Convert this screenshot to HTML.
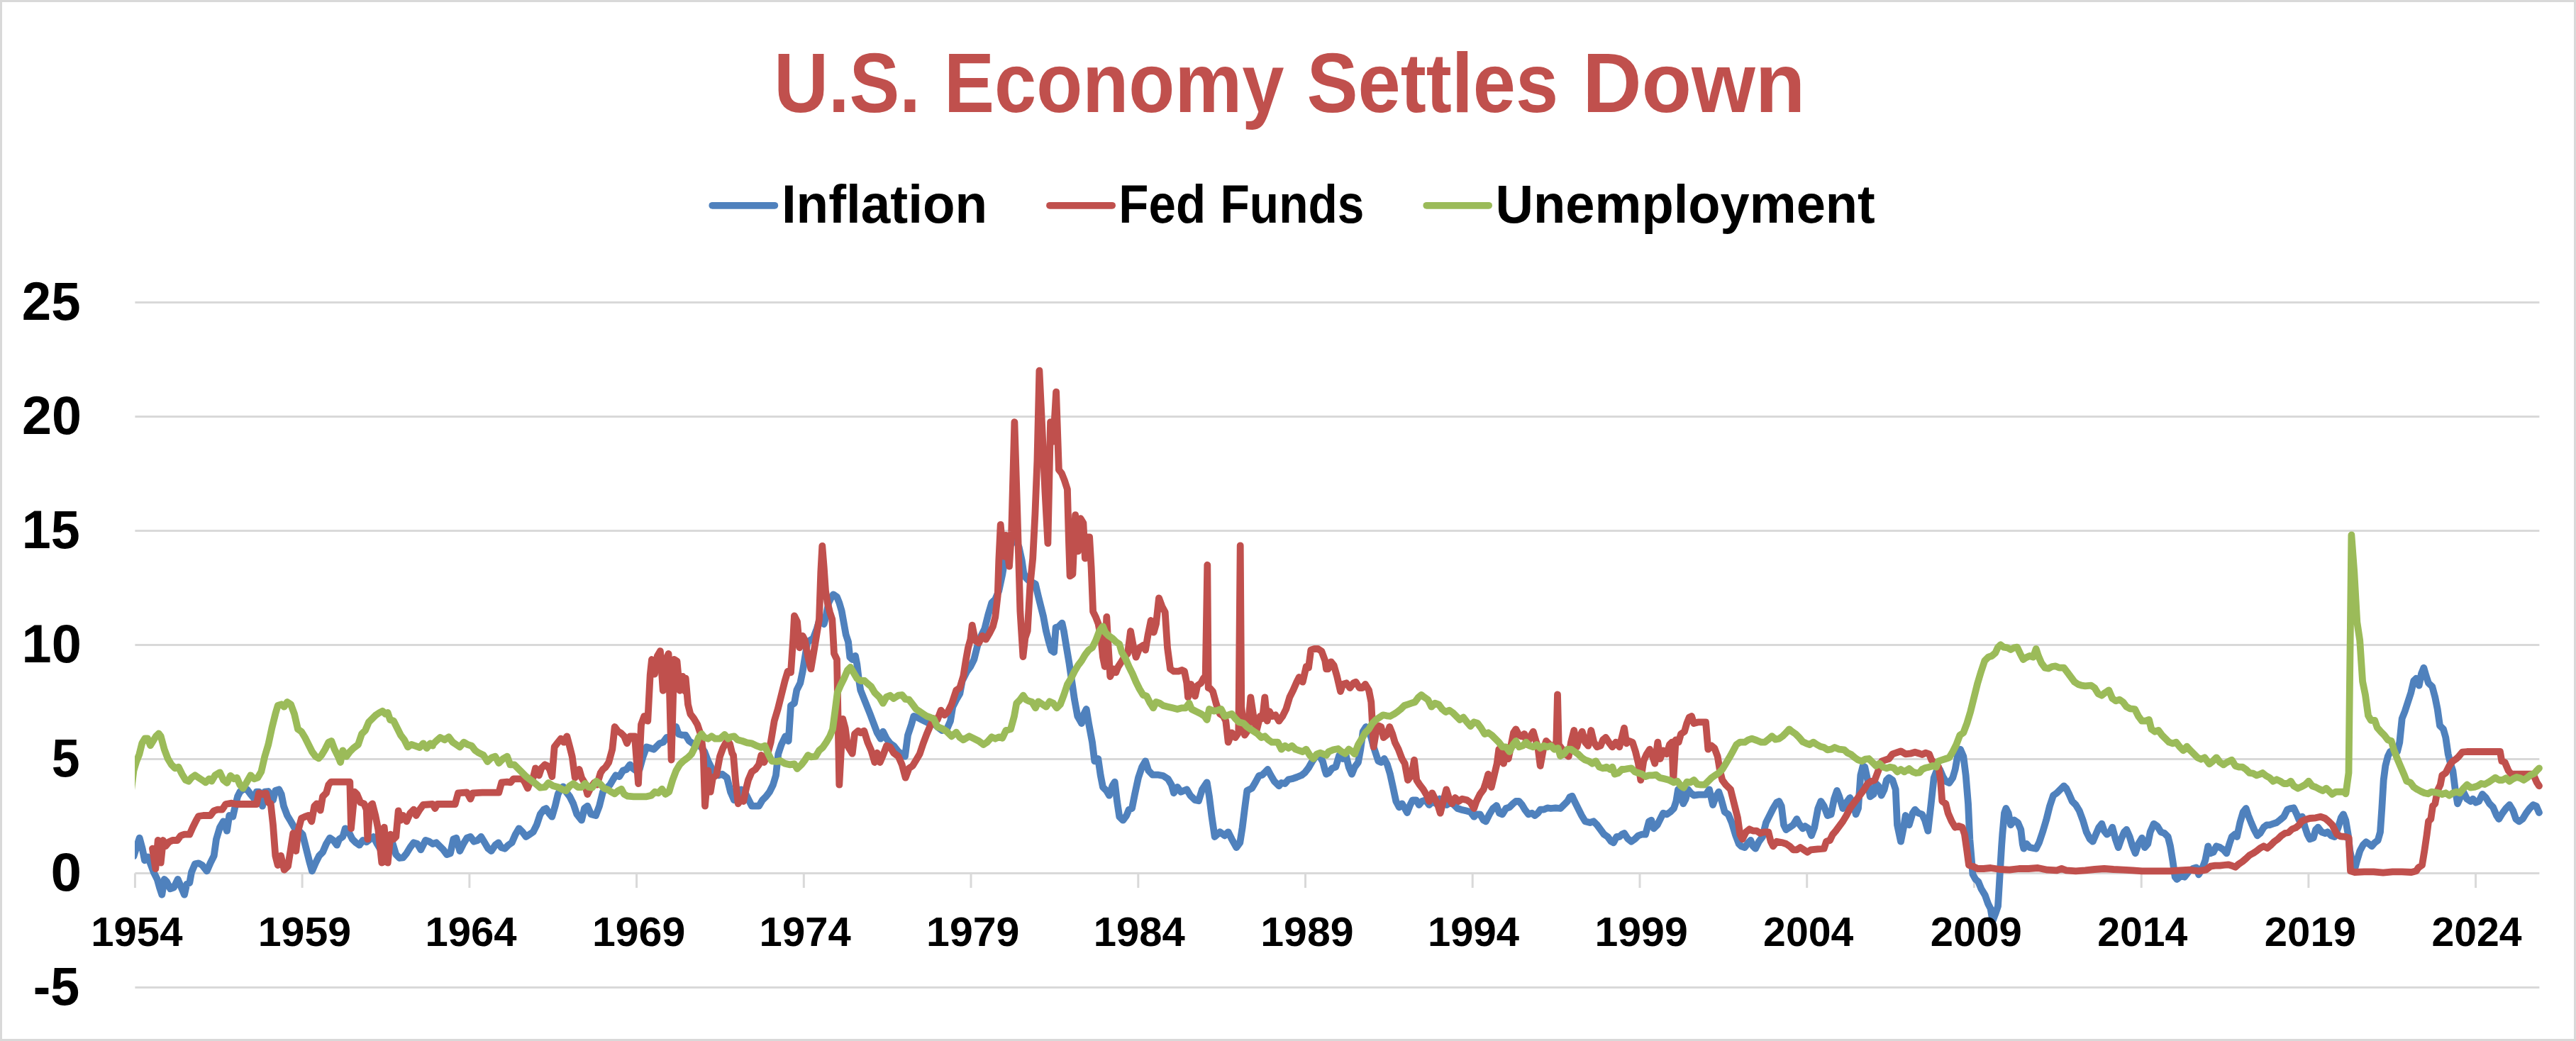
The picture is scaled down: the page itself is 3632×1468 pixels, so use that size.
<!DOCTYPE html>
<html><head><meta charset="utf-8"><title>U.S. Economy Settles Down</title>
<style>
html,body{margin:0;padding:0;background:#fff;}
body{width:3632px;height:1468px;overflow:hidden;font-family:"Liberation Sans",sans-serif;}
svg{display:block}
text{font-family:"Liberation Sans",sans-serif;font-weight:bold;}
</style></head><body>
<svg width="3632" height="1468" viewBox="0 0 3632 1468">
<rect x="0" y="0" width="3632" height="1468" fill="#ffffff"/>
<rect x="1.5" y="1.5" width="3629.00" height="1465.00" fill="none" stroke="#d9d9d9" stroke-width="3"/>
<g stroke="#d9d9d9" stroke-width="3" fill="none">
<line x1="190.4" y1="426.5" x2="3580.4" y2="426.5"/>
<line x1="190.4" y1="587.5" x2="3580.4" y2="587.5"/>
<line x1="190.4" y1="748.5" x2="3580.4" y2="748.5"/>
<line x1="190.4" y1="909.5" x2="3580.4" y2="909.5"/>
<line x1="190.4" y1="1070.5" x2="3580.4" y2="1070.5"/>
<line x1="190.4" y1="1231.5" x2="3580.4" y2="1231.5"/>
<line x1="190.4" y1="1392.5" x2="3580.4" y2="1392.5"/>
<line x1="190.4" y1="1231.5" x2="190.4" y2="1252"/>
<line x1="426.1" y1="1231.5" x2="426.1" y2="1252"/>
<line x1="661.9" y1="1231.5" x2="661.9" y2="1252"/>
<line x1="897.6" y1="1231.5" x2="897.6" y2="1252"/>
<line x1="1133.3" y1="1231.5" x2="1133.3" y2="1252"/>
<line x1="1369.0" y1="1231.5" x2="1369.0" y2="1252"/>
<line x1="1604.8" y1="1231.5" x2="1604.8" y2="1252"/>
<line x1="1840.5" y1="1231.5" x2="1840.5" y2="1252"/>
<line x1="2076.2" y1="1231.5" x2="2076.2" y2="1252"/>
<line x1="2312.0" y1="1231.5" x2="2312.0" y2="1252"/>
<line x1="2547.7" y1="1231.5" x2="2547.7" y2="1252"/>
<line x1="2783.4" y1="1231.5" x2="2783.4" y2="1252"/>
<line x1="3019.2" y1="1231.5" x2="3019.2" y2="1252"/>
<line x1="3254.9" y1="1231.5" x2="3254.9" y2="1252"/>
<line x1="3490.6" y1="1231.5" x2="3490.6" y2="1252"/>
</g>
<defs><clipPath id="plotclip"><rect x="190" y="300" width="3442" height="1168"/></clipPath></defs>
<g clip-path="url(#plotclip)" fill="none" stroke-width="9.8" stroke-linejoin="round" stroke-linecap="round">
<polyline stroke="#4f81bd" points="184.5,1207.4 188.5,1207.4 192.4,1195.1 196.7,1181.7 200.7,1196.7 204.0,1213.3 208.3,1208.3 211.7,1216.7 216.7,1230.0 221.7,1240.0 225.0,1251.7 228.3,1261.7 231.7,1240.0 235.0,1243.3 240.0,1253.3 245.0,1251.7 250.7,1240.0 255.0,1250.0 260.0,1261.7 263.3,1246.7 267.3,1245.0 270.0,1230.0 275.0,1218.3 280.0,1217.3 285.0,1220.0 291.7,1228.3 296.7,1216.7 301.7,1206.7 305.0,1183.3 310.0,1166.7 315.0,1158.3 320.0,1171.7 323.3,1150.0 328.3,1151.7 331.7,1136.7 335.0,1123.3 338.3,1116.7 343.3,1112.7 348.3,1113.3 353.3,1120.0 358.3,1126.0 361.7,1116.7 365.0,1116.7 370.0,1136.7 373.3,1116.7 378.3,1116.0 385.0,1128.3 388.3,1115.0 393.3,1113.3 396.7,1120.0 400.0,1136.7 405.0,1150.0 410.0,1158.3 416.7,1170.0 421.7,1171.7 426.7,1176.7 431.7,1196.7 436.7,1216.7 440.0,1228.3 445.0,1216.7 450.0,1206.7 455.0,1201.7 460.0,1190.0 465.0,1181.7 470.0,1185.0 475.0,1191.7 478.3,1183.3 483.3,1180.0 486.7,1168.3 491.7,1173.3 496.7,1183.3 501.7,1188.3 506.7,1191.7 511.7,1185.0 516.7,1187.3 521.7,1183.3 526.7,1180.0 531.7,1190.0 536.7,1198.3 543.3,1196.7 548.3,1195.0 553.3,1188.3 558.3,1205.0 563.3,1210.0 568.3,1209.3 573.3,1203.3 578.3,1195.0 583.3,1188.3 588.3,1190.0 593.3,1198.3 600.0,1185.0 605.0,1186.7 610.0,1190.0 610.0,1190.0 615.0,1188.3 620.0,1193.3 625.0,1198.3 630.0,1205.0 635.0,1203.3 639.3,1183.3 643.3,1181.7 648.3,1200.0 653.3,1190.0 658.3,1181.7 663.3,1180.0 668.3,1186.7 673.3,1185.0 678.3,1180.0 683.3,1188.3 688.3,1196.7 692.7,1200.0 698.3,1191.7 702.7,1188.3 706.7,1195.0 711.7,1196.7 716.7,1191.7 721.7,1188.3 726.7,1176.7 731.7,1168.3 736.7,1173.3 741.7,1180.0 746.7,1176.7 751.7,1173.3 756.7,1163.3 761.7,1148.3 766.7,1141.7 770.0,1140.0 774.0,1146.7 778.3,1151.7 782.7,1136.7 786.7,1120.0 790.0,1113.3 794.0,1109.3 798.3,1116.7 803.3,1123.3 808.3,1133.3 813.3,1148.3 820.0,1156.7 824.0,1140.0 828.3,1136.7 833.3,1148.3 840.0,1150.0 845.0,1136.7 850.0,1116.7 855.0,1111.7 860.0,1106.7 865.0,1098.3 868.3,1093.3 873.3,1095.0 878.3,1086.7 883.3,1085.0 888.3,1078.3 891.7,1083.3 896.7,1086.7 901.7,1085.0 906.7,1066.7 911.7,1053.3 916.7,1055.0 921.7,1056.7 926.7,1051.7 930.0,1048.3 935.0,1046.7 940.0,1040.0 945.0,1040.0 949.3,1030.0 953.3,1025.0 956.7,1035.0 961.7,1036.7 966.7,1036.7 971.7,1045.0 976.7,1048.3 983.3,1050.0 988.3,1053.3 993.3,1060.0 998.3,1073.3 1003.3,1083.3 1008.3,1091.7 1013.3,1093.3 1018.3,1091.7 1025.0,1096.7 1030.0,1116.7 1035.0,1128.3 1040.0,1123.3 1045.0,1113.3 1050.0,1116.7 1055.0,1126.7 1060.0,1136.7 1070.0,1136.7 1075.0,1128.3 1080.0,1123.3 1085.0,1116.7 1090.0,1106.7 1094.0,1093.3 1097.3,1063.3 1101.7,1050.0 1107.3,1038.3 1111.7,1045.0 1115.0,995.0 1120.0,991.7 1123.3,973.3 1128.3,963.3 1131.7,946.7 1135.0,926.7 1138.3,906.7 1141.7,903.3 1146.7,900.0 1151.7,886.7 1156.7,870.0 1161.7,880.0 1164.0,871.7 1168.3,850.0 1171.7,843.3 1175.0,838.3 1180.0,841.7 1183.3,850.0 1186.7,861.7 1190.0,880.0 1192.7,895.0 1196.0,905.0 1198.3,926.7 1201.7,930.0 1206.0,925.0 1208.3,936.7 1210.7,956.7 1213.3,973.3 1220.0,990.0 1226.7,1006.7 1231.7,1020.0 1236.7,1033.3 1241.7,1041.7 1245.0,1031.7 1250.0,1041.7 1255.0,1048.3 1260.0,1051.7 1266.7,1060.0 1271.7,1063.3 1276.0,1066.7 1280.0,1036.7 1285.0,1021.7 1288.3,1010.0 1293.3,1011.7 1300.0,1015.0 1306.7,1018.3 1311.7,1021.7 1316.7,1020.0 1321.7,1025.0 1328.3,1030.0 1335.0,1028.3 1340.0,1016.7 1343.3,996.7 1348.3,986.7 1353.3,978.3 1356.7,960.0 1363.3,946.7 1368.3,940.0 1373.3,930.0 1378.3,910.0 1383.3,896.7 1388.3,886.7 1393.3,866.7 1398.3,850.0 1403.3,845.0 1408.3,833.3 1413.3,810.0 1416.7,790.0 1421.7,776.7 1426.7,763.3 1431.7,760.0 1436.7,771.7 1440.7,790.0 1443.3,808.3 1446.7,815.0 1450.0,818.3 1459.9,823.6 1463.7,839.9 1467.4,854.8 1471.2,869.8 1474.9,889.8 1478.7,904.8 1482.4,917.3 1486.1,919.8 1488.6,884.8 1492.4,883.6 1497.4,878.6 1499.9,889.8 1503.6,912.3 1507.4,934.8 1511.1,960.0 1515.0,986.7 1519.3,1010.0 1525.0,1020.0 1528.3,1006.7 1531.7,1000.0 1535.0,1020.0 1540.0,1046.7 1543.3,1073.3 1548.3,1070.0 1551.7,1093.3 1555.0,1110.0 1560.0,1115.0 1564.0,1121.7 1568.3,1108.3 1571.7,1102.7 1575.0,1130.0 1578.3,1151.7 1583.3,1156.7 1588.3,1150.0 1591.7,1141.7 1596.0,1140.0 1600.0,1120.0 1605.0,1096.7 1610.0,1081.7 1615.0,1073.3 1619.3,1086.7 1625.0,1092.7 1633.3,1092.7 1640.0,1094.0 1646.7,1098.3 1651.7,1106.7 1655.0,1118.3 1660.0,1110.0 1665.0,1116.7 1673.3,1113.3 1678.3,1121.7 1685.0,1128.3 1690.0,1129.3 1695.0,1113.3 1701.7,1103.3 1705.0,1123.3 1708.3,1150.0 1712.7,1180.0 1720.0,1173.3 1726.7,1178.3 1731.7,1173.3 1736.7,1183.3 1743.3,1195.0 1748.3,1188.3 1751.7,1166.7 1755.0,1140.0 1758.3,1115.0 1765.0,1111.7 1770.0,1103.3 1775.0,1094.0 1780.0,1092.7 1787.3,1085.0 1791.7,1093.3 1796.7,1101.7 1803.3,1108.3 1806.7,1104.0 1811.7,1105.0 1816.7,1099.3 1821.7,1098.3 1828.3,1096.0 1835.0,1093.3 1840.0,1089.3 1845.0,1082.7 1850.0,1074.0 1855.0,1066.7 1860.0,1065.0 1865.0,1074.0 1868.3,1086.7 1870.0,1091.7 1873.3,1090.0 1878.3,1083.3 1883.3,1081.7 1888.3,1065.0 1893.3,1070.0 1897.3,1063.3 1901.7,1081.7 1906.0,1091.7 1910.0,1081.7 1915.0,1075.0 1918.3,1056.7 1921.7,1031.7 1926.0,1025.0 1930.0,1031.7 1933.3,1040.0 1936.7,1053.3 1940.0,1063.3 1943.3,1073.3 1947.3,1075.0 1951.7,1070.0 1956.0,1078.3 1960.0,1091.7 1964.0,1110.0 1968.3,1130.0 1972.7,1138.3 1976.7,1133.3 1980.7,1140.0 1984.0,1146.0 1988.3,1135.0 1991.7,1128.3 1996.7,1128.3 2000.7,1135.0 2005.0,1130.0 2010.0,1128.3 2015.0,1135.0 2020.0,1130.0 2025.0,1133.3 2030.0,1126.7 2035.0,1130.0 2040.0,1135.0 2045.0,1131.7 2050.0,1135.0 2055.0,1140.0 2060.0,1141.7 2066.7,1143.3 2073.3,1145.0 2078.3,1151.7 2081.7,1148.3 2086.7,1148.3 2091.7,1156.7 2095.0,1158.3 2100.0,1148.3 2105.0,1140.0 2110.0,1136.0 2114.0,1146.7 2118.3,1148.3 2123.3,1140.0 2128.3,1138.3 2133.3,1133.3 2137.3,1130.0 2141.7,1130.0 2146.0,1135.0 2150.0,1141.7 2155.0,1148.3 2160.0,1146.7 2164.0,1150.0 2168.3,1146.7 2171.7,1141.7 2176.7,1141.7 2181.7,1139.3 2186.7,1140.0 2193.3,1139.3 2200.0,1140.0 2205.0,1135.0 2210.0,1130.0 2213.3,1124.0 2216.7,1122.7 2220.0,1130.0 2225.0,1140.0 2230.0,1150.0 2235.0,1158.3 2241.7,1160.0 2246.7,1158.3 2251.7,1163.3 2256.7,1170.0 2261.7,1176.7 2266.7,1180.0 2271.7,1186.7 2275.0,1188.3 2279.3,1180.0 2283.3,1180.0 2286.7,1176.7 2290.0,1175.0 2295.0,1182.7 2300.0,1186.7 2305.0,1183.3 2310.0,1178.3 2315.0,1176.7 2320.0,1176.7 2325.0,1158.3 2328.3,1156.7 2331.7,1168.3 2336.7,1163.3 2341.7,1153.3 2345.0,1146.7 2350.0,1148.3 2355.0,1145.0 2360.0,1140.0 2363.3,1130.0 2366.0,1113.3 2369.3,1116.7 2373.3,1133.3 2376.7,1126.7 2380.0,1113.3 2384.0,1118.3 2388.3,1121.7 2395.0,1120.7 2405.0,1120.7 2410.0,1113.3 2415.0,1135.0 2419.3,1123.3 2423.3,1116.7 2426.7,1126.7 2431.7,1145.0 2436.7,1148.3 2441.7,1160.0 2446.7,1176.7 2451.7,1190.0 2455.0,1193.3 2460.0,1195.0 2465.0,1188.3 2468.3,1185.0 2471.7,1193.3 2475.0,1196.7 2480.0,1186.7 2485.0,1180.0 2490.0,1160.0 2495.0,1150.0 2500.0,1140.0 2505.0,1131.7 2508.3,1130.0 2511.7,1136.7 2515.0,1163.3 2518.3,1170.0 2523.3,1166.7 2528.3,1163.3 2533.3,1155.0 2536.7,1161.7 2541.7,1168.3 2545.0,1165.0 2550.0,1168.3 2554.0,1178.3 2558.3,1166.7 2563.3,1140.0 2567.3,1130.0 2571.7,1136.7 2576.7,1150.0 2581.7,1148.3 2586.0,1126.7 2590.0,1115.0 2593.3,1123.3 2598.3,1140.0 2603.3,1131.7 2608.3,1125.0 2613.3,1133.3 2616.7,1148.3 2620.0,1140.0 2623.3,1093.3 2626.7,1080.0 2629.3,1081.7 2633.3,1100.0 2636.7,1123.3 2641.7,1120.0 2645.0,1105.0 2648.3,1108.3 2652.7,1121.7 2656.7,1113.3 2660.0,1100.0 2663.3,1096.7 2668.3,1100.0 2672.7,1113.3 2675.0,1163.3 2680.0,1186.7 2684.0,1166.7 2686.7,1150.0 2691.7,1163.3 2696.7,1146.7 2700.0,1141.7 2705.0,1146.7 2710.0,1148.3 2714.0,1156.7 2718.3,1171.7 2722.7,1133.3 2726.7,1096.7 2730.7,1086.7 2735.0,1085.0 2739.3,1095.0 2743.3,1101.7 2748.3,1104.0 2753.3,1096.7 2756.7,1085.0 2760.0,1066.7 2764.0,1056.7 2768.3,1066.7 2771.7,1093.3 2775.0,1133.3 2777.3,1183.3 2778.9,1201.9 2781.5,1233.0 2785.3,1239.9 2789.3,1243.4 2793.6,1253.8 2798.8,1262.4 2803.1,1274.5 2806.6,1281.4 2809.5,1298.7 2813.5,1288.3 2817.0,1278.0 2819.5,1236.5 2822.1,1193.2 2823.3,1176.7 2826.0,1146.7 2828.3,1140.0 2831.7,1146.7 2835.0,1163.3 2840.0,1156.7 2845.0,1160.0 2849.3,1170.0 2851.7,1190.0 2853.3,1196.7 2857.3,1190.0 2861.7,1195.0 2866.7,1196.0 2870.7,1196.7 2875.0,1188.3 2880.0,1173.3 2885.0,1156.7 2890.0,1136.7 2895.0,1121.7 2900.0,1118.3 2905.0,1113.3 2910.0,1108.3 2913.3,1111.7 2917.3,1120.0 2921.7,1130.0 2926.7,1135.0 2931.7,1143.3 2936.7,1156.7 2941.7,1173.3 2946.7,1183.3 2950.7,1186.7 2955.0,1176.7 2959.3,1166.7 2963.3,1161.7 2966.7,1171.7 2970.7,1176.7 2975.0,1173.3 2978.3,1166.7 2982.7,1183.3 2986.7,1195.0 2990.7,1183.3 2995.0,1173.3 2998.3,1170.0 3002.7,1180.0 3006.7,1193.3 3010.7,1203.3 3015.0,1190.0 3020.0,1181.7 3024.0,1195.0 3028.3,1190.0 3031.7,1173.3 3036.7,1161.7 3041.7,1165.0 3046.7,1173.3 3051.7,1175.0 3056.7,1180.0 3060.0,1193.3 3063.3,1213.3 3066.7,1236.7 3069.3,1240.0 3075.0,1235.0 3080.0,1236.7 3086.7,1228.3 3091.7,1225.0 3096.7,1223.3 3100.0,1233.3 3105.0,1225.0 3109.3,1213.3 3113.3,1193.3 3116.7,1203.3 3120.7,1201.7 3125.0,1193.3 3130.0,1195.0 3135.0,1198.3 3139.3,1203.3 3143.3,1190.0 3146.7,1180.0 3150.7,1176.7 3154.0,1180.0 3158.3,1160.0 3162.7,1145.0 3166.7,1140.0 3170.0,1150.0 3174.0,1160.0 3178.3,1170.0 3182.7,1178.3 3186.7,1175.0 3191.7,1166.7 3196.0,1163.3 3200.0,1163.3 3205.0,1161.7 3210.0,1160.0 3215.0,1156.0 3220.0,1151.7 3225.0,1141.7 3230.0,1140.0 3234.0,1139.3 3238.3,1148.3 3241.7,1156.7 3246.0,1151.7 3250.0,1166.7 3253.3,1176.7 3256.7,1183.3 3261.7,1181.7 3265.0,1170.0 3268.3,1166.7 3273.3,1173.3 3278.3,1175.0 3281.7,1173.3 3286.7,1178.3 3291.7,1180.0 3296.7,1166.7 3300.7,1153.3 3304.0,1148.3 3307.3,1156.7 3310.7,1176.7 3313.3,1200.0 3316.7,1216.7 3319.3,1228.3 3323.3,1213.3 3327.3,1200.0 3331.7,1191.7 3336.0,1187.3 3340.0,1190.0 3344.0,1193.3 3348.3,1188.3 3352.7,1185.0 3356.0,1173.3 3358.3,1140.0 3360.7,1100.0 3363.3,1080.0 3366.7,1066.7 3370.0,1060.0 3375.0,1058.3 3380.0,1060.0 3383.3,1046.7 3386.7,1013.3 3390.7,1003.3 3395.0,990.0 3399.3,976.7 3403.3,960.0 3406.7,956.7 3410.7,966.7 3414.0,950.0 3417.3,941.7 3420.7,953.3 3424.0,963.3 3429.3,968.3 3433.3,983.3 3436.7,1000.0 3440.0,1023.3 3445.0,1028.3 3448.3,1040.0 3451.7,1063.3 3455.0,1076.7 3458.3,1086.7 3461.7,1113.3 3465.0,1133.3 3469.3,1123.3 3473.3,1116.7 3478.3,1126.7 3483.3,1130.0 3486.7,1126.7 3490.7,1131.7 3495.0,1130.0 3500.0,1120.0 3505.0,1125.0 3510.0,1133.3 3515.0,1138.3 3520.0,1150.0 3523.3,1155.0 3528.3,1146.7 3533.3,1140.0 3538.3,1135.0 3543.3,1143.3 3547.3,1155.0 3551.7,1158.3 3556.7,1155.0 3561.7,1146.7 3566.7,1140.0 3571.7,1135.0 3576.0,1136.7 3580.0,1146.0"/>
<polyline stroke="#c0504d" points="215.0,1196.7 219.3,1225.0 222.7,1185.0 226.7,1216.7 230.0,1185.0 233.3,1193.3 238.3,1187.3 243.3,1185.0 250.0,1185.0 255.0,1178.3 260.0,1176.7 267.3,1176.7 271.7,1166.7 276.7,1156.7 280.0,1151.0 286.7,1150.0 296.7,1150.0 301.7,1143.3 306.7,1141.7 313.3,1141.7 318.3,1134.0 326.7,1132.7 333.3,1134.0 353.3,1134.0 361.7,1134.0 365.0,1118.3 370.0,1120.0 375.0,1118.3 378.3,1131.7 381.7,1133.3 385.0,1163.3 388.3,1206.7 391.7,1220.0 396.0,1206.7 400.7,1226.7 406.0,1221.7 410.0,1196.7 413.3,1175.0 417.3,1200.0 420.7,1170.0 425.0,1154.0 430.0,1151.7 435.0,1150.0 439.3,1158.3 443.3,1136.7 446.7,1133.3 451.7,1142.7 455.0,1123.3 460.0,1118.3 463.3,1106.7 466.7,1102.7 493.3,1102.7 495.0,1168.3 500.0,1116.7 503.3,1120.0 508.3,1131.7 513.3,1133.3 516.7,1141.7 518.3,1183.3 521.7,1136.7 525.0,1133.3 529.3,1150.0 533.3,1170.0 538.3,1216.7 541.7,1166.7 546.7,1216.7 550.7,1176.7 555.0,1183.3 558.3,1180.0 561.7,1143.3 565.0,1156.7 568.3,1150.0 573.3,1158.3 578.3,1146.7 583.3,1141.7 586.7,1150.0 591.7,1141.7 596.7,1135.0 610.0,1134.0 610.0,1134.0 613.3,1140.0 616.7,1134.0 641.7,1134.0 646.0,1118.3 658.3,1117.3 663.3,1126.7 666.7,1118.3 680.0,1117.7 703.3,1117.7 707.3,1103.3 715.0,1102.7 720.0,1103.3 724.0,1098.3 736.7,1098.3 740.0,1103.3 744.0,1111.7 748.3,1100.0 751.7,1096.7 755.0,1083.3 760.0,1093.3 763.3,1083.3 768.3,1078.3 771.7,1080.0 775.0,1085.0 778.3,1095.0 781.7,1053.3 786.7,1046.7 790.7,1041.7 795.0,1046.7 799.3,1038.3 803.3,1053.3 806.7,1066.7 810.7,1096.7 816.7,1085.0 820.0,1096.7 824.0,1103.3 828.3,1120.0 833.3,1110.0 838.3,1103.3 841.7,1106.7 846.7,1090.0 850.0,1085.0 854.0,1081.7 858.3,1075.0 863.3,1056.7 866.7,1025.0 871.7,1031.7 875.0,1033.3 880.0,1038.3 884.0,1048.3 888.3,1038.3 895.0,1038.3 900.0,1105.0 904.0,1021.7 908.3,1010.0 913.3,1016.7 916.7,951.7 919.0,930.0 923.0,950.6 926.9,925.0 930.9,918.1 934.8,973.8 938.8,930.0 942.6,921.9 946.6,1071.6 950.5,930.0 954.5,932.5 958.4,973.8 962.4,953.8 966.2,975.0 966.7,956.7 970.0,993.3 973.3,1006.7 978.3,1013.3 983.3,1021.7 988.3,1036.7 991.7,1063.3 994.0,1136.7 998.3,1086.7 1001.7,1116.7 1005.0,1096.7 1010.0,1093.3 1015.0,1066.7 1019.3,1055.0 1023.0,1048.0 1026.0,1044.6 1029.0,1049.0 1032.2,1062.0 1034.0,1065.0 1037.3,1103.3 1040.7,1133.3 1044.0,1128.3 1048.3,1130.0 1051.7,1113.3 1055.0,1100.0 1060.0,1088.3 1065.0,1085.0 1070.0,1078.3 1073.3,1065.0 1077.3,1075.0 1081.7,1065.0 1086.7,1046.7 1091.7,1016.7 1096.7,1000.0 1101.7,980.0 1106.7,960.0 1110.7,946.7 1115.0,948.3 1118.3,900.0 1120.0,868.3 1124.0,876.7 1127.3,913.3 1131.7,896.7 1135.0,903.3 1139.3,926.7 1143.3,943.3 1147.3,920.0 1151.7,893.3 1155.0,873.3 1157.3,806.7 1159.3,770.0 1161.7,800.0 1164.0,833.3 1166.7,850.0 1170.0,863.3 1173.3,873.3 1176.0,921.7 1180.0,930.0 1183.3,1106.7 1188.3,1014.0 1191.7,1026.7 1195.0,1051.7 1201.7,1062.7 1205.0,1035.0 1210.0,1030.7 1213.3,1033.3 1218.3,1030.7 1223.3,1046.7 1228.3,1058.3 1233.3,1075.0 1236.7,1061.7 1240.7,1075.0 1245.0,1065.0 1250.0,1051.7 1255.0,1053.3 1260.0,1061.7 1266.7,1066.7 1271.7,1078.3 1276.7,1096.7 1281.7,1083.3 1286.7,1080.0 1291.7,1071.7 1296.7,1063.3 1301.7,1048.3 1306.7,1035.0 1311.7,1023.3 1316.7,1013.3 1321.7,1015.0 1326.7,1001.7 1331.7,1008.3 1336.7,1003.3 1341.7,993.3 1345.0,983.3 1348.3,973.3 1353.3,970.0 1358.3,953.3 1361.7,931.7 1365.0,913.3 1368.3,901.7 1370.7,881.7 1375.0,903.3 1380.0,906.7 1385.0,896.7 1390.0,901.7 1395.0,893.3 1400.0,883.3 1403.3,870.0 1406.7,840.0 1408.3,790.0 1410.7,740.0 1413.7,774.9 1416.2,784.9 1418.0,754.9 1421.2,782.4 1423.0,798.7 1426.2,750.0 1430.4,595.1 1434.4,725.0 1438.4,862.3 1442.4,926.0 1445.4,899.8 1448.7,889.8 1452.4,824.9 1456.2,787.4 1459.4,725.0 1462.4,650.0 1465.4,522.7 1469.4,605.1 1473.4,692.5 1477.4,766.2 1481.1,595.1 1485.1,622.6 1489.1,552.6 1492.9,662.5 1496.9,667.5 1500.9,677.5 1504.9,690.0 1506.9,762.4 1508.6,812.4 1512.4,809.9 1516.1,726.2 1519.9,777.4 1523.6,731.2 1527.4,737.5 1529.9,787.4 1532.3,757.4 1536.1,757.4 1538.6,799.9 1541.1,862.3 1544.8,869.8 1548.6,879.8 1552.3,899.8 1555.0,926.7 1557.7,940.0 1560.3,870.0 1562.7,913.3 1565.3,954.0 1570.0,943.3 1573.3,948.3 1576.7,940.0 1580.0,935.0 1585.0,926.7 1590.0,921.7 1594.0,890.0 1598.3,913.3 1601.7,926.7 1606.7,913.3 1611.7,910.0 1615.0,916.7 1618.3,896.7 1622.7,875.0 1626.7,891.7 1630.0,880.0 1634.0,843.3 1638.3,855.0 1642.7,863.3 1646.0,913.3 1650.0,943.3 1655.0,946.7 1661.7,946.7 1666.7,945.0 1670.0,946.7 1673.3,963.3 1675.0,983.3 1679.3,965.0 1685.0,981.7 1688.3,966.7 1693.3,963.3 1696.7,956.7 1699.7,953.3 1702.3,796.7 1703.7,970.0 1706.0,970.7 1710.0,975.0 1715.0,993.3 1720.0,1006.7 1725.0,1010.0 1728.3,1016.7 1731.7,1046.7 1736.7,1033.3 1741.7,1040.0 1746.3,1033.3 1748.7,769.3 1750.3,996.7 1755.0,1036.7 1759.3,1030.0 1763.3,983.3 1767.3,1010.0 1771.7,1030.0 1776.7,1010.0 1780.0,1013.3 1783.3,983.3 1786.7,1016.7 1790.0,1003.3 1793.3,1010.0 1798.3,1008.3 1803.3,1016.7 1808.3,1010.0 1813.3,1000.0 1818.3,983.3 1823.3,973.3 1828.3,961.7 1831.7,955.0 1836.7,961.7 1841.7,940.0 1845.0,941.7 1848.3,916.7 1853.3,915.0 1858.3,915.0 1863.3,918.3 1868.3,931.7 1870.0,943.3 1872.7,943.3 1876.7,933.3 1880.7,938.3 1885.0,953.3 1890.0,975.0 1893.3,965.0 1898.3,963.3 1903.3,970.0 1908.3,963.3 1911.7,961.7 1916.7,970.0 1920.7,970.0 1925.0,965.0 1930.0,973.3 1933.3,990.0 1936.7,1053.3 1940.0,1033.3 1943.3,1023.3 1947.3,1025.0 1950.7,1040.0 1955.0,1036.7 1959.3,1025.0 1963.3,1035.0 1966.7,1046.7 1971.7,1056.7 1976.7,1070.0 1980.7,1076.7 1985.0,1100.0 1990.0,1093.3 1994.0,1071.7 1997.3,1100.0 2001.7,1106.7 2006.7,1113.3 2011.7,1121.7 2015.0,1130.0 2019.3,1118.3 2023.3,1126.7 2026.7,1133.3 2030.7,1146.7 2035.0,1130.0 2039.3,1113.3 2043.3,1126.7 2047.3,1133.3 2051.7,1125.0 2056.7,1130.0 2061.7,1126.7 2068.3,1128.3 2073.3,1131.7 2078.3,1140.0 2081.7,1130.0 2086.7,1120.0 2091.7,1113.3 2095.0,1103.3 2098.3,1091.7 2102.7,1110.0 2106.7,1093.3 2110.7,1076.7 2113.3,1056.7 2116.7,1063.3 2120.0,1076.7 2123.3,1060.0 2126.7,1070.0 2130.7,1050.0 2134.0,1033.3 2137.3,1028.3 2141.7,1036.7 2145.0,1038.3 2149.3,1035.0 2153.3,1050.0 2156.7,1040.0 2161.7,1031.7 2165.0,1043.3 2168.3,1053.3 2171.7,1080.0 2176.0,1056.7 2180.0,1045.0 2185.0,1050.0 2190.0,1053.3 2194.3,1046.7 2196.0,979.3 2197.7,1050.0 2202.7,1056.7 2206.7,1063.3 2211.7,1066.7 2215.0,1046.7 2219.3,1030.0 2223.3,1053.3 2226.7,1040.0 2230.7,1031.7 2235.0,1046.7 2239.3,1051.7 2243.3,1030.0 2247.3,1046.7 2251.7,1053.3 2256.7,1051.7 2260.0,1043.3 2264.0,1040.0 2268.3,1046.7 2273.3,1053.3 2278.3,1046.7 2283.3,1053.3 2286.7,1040.0 2290.0,1026.7 2293.3,1048.3 2297.3,1045.0 2301.7,1046.7 2306.0,1060.0 2310.0,1076.7 2313.3,1100.0 2317.3,1073.3 2321.7,1063.3 2326.0,1056.7 2330.0,1066.7 2333.3,1076.7 2337.3,1046.7 2340.7,1070.0 2345.0,1058.3 2350.0,1063.3 2354.0,1050.0 2357.3,1046.7 2359.3,1100.0 2362.7,1043.3 2366.7,1046.7 2370.0,1035.0 2375.0,1031.7 2378.3,1020.0 2381.7,1011.7 2385.0,1010.0 2388.3,1020.0 2395.0,1018.3 2405.0,1018.3 2408.3,1056.7 2413.3,1051.7 2417.3,1055.0 2421.7,1066.7 2425.0,1086.7 2428.3,1100.0 2433.3,1106.7 2440.0,1113.3 2445.0,1133.3 2450.0,1153.3 2453.3,1176.7 2456.7,1183.3 2461.7,1173.3 2466.7,1169.3 2471.7,1171.7 2476.7,1171.7 2481.7,1175.0 2486.7,1173.3 2493.3,1173.3 2496.7,1186.7 2500.0,1193.3 2505.0,1186.7 2513.3,1188.3 2518.3,1190.0 2523.3,1193.3 2528.3,1198.3 2533.3,1198.3 2538.3,1195.0 2543.3,1198.3 2548.3,1201.7 2553.3,1198.3 2563.3,1197.3 2571.7,1196.7 2575.0,1186.7 2580.0,1185.0 2584.0,1176.7 2588.3,1171.7 2593.3,1165.0 2598.3,1158.3 2603.3,1150.0 2608.3,1140.0 2613.3,1133.3 2618.3,1126.7 2623.3,1120.0 2628.3,1113.3 2633.3,1105.0 2638.3,1101.7 2643.3,1100.0 2648.3,1086.7 2653.3,1073.3 2658.3,1071.7 2663.3,1070.0 2668.3,1063.3 2673.3,1061.7 2680.0,1059.3 2686.7,1063.3 2693.3,1062.7 2700.0,1060.7 2706.7,1062.7 2710.0,1064.0 2715.0,1061.7 2720.0,1063.3 2723.3,1071.7 2728.3,1076.7 2733.3,1081.7 2736.0,1100.0 2738.3,1130.0 2743.3,1133.3 2746.7,1146.7 2751.7,1158.3 2756.7,1166.7 2761.7,1165.0 2766.7,1166.7 2770.0,1176.7 2773.3,1200.0 2776.0,1220.0 2781.7,1221.7 2788.3,1225.0 2796.7,1225.0 2806.7,1224.0 2820.0,1226.0 2833.3,1226.7 2846.7,1225.0 2860.0,1225.0 2873.3,1224.0 2886.7,1226.7 2900.0,1227.3 2906.7,1225.0 2913.3,1227.3 2926.7,1228.3 2940.0,1227.3 2953.3,1226.0 2966.7,1225.0 2980.0,1226.0 2993.3,1226.7 3006.7,1227.3 3020.0,1228.3 3033.3,1228.3 3046.7,1228.3 3060.0,1228.3 3073.3,1227.3 3086.7,1226.7 3100.0,1228.3 3110.0,1226.7 3116.7,1221.7 3123.3,1220.7 3130.0,1220.7 3135.0,1220.0 3141.7,1219.3 3146.7,1220.7 3151.7,1222.7 3156.7,1218.3 3161.7,1215.0 3166.7,1210.7 3171.7,1206.0 3176.7,1203.3 3181.7,1200.0 3186.7,1196.0 3191.7,1193.3 3196.7,1196.0 3201.7,1191.7 3206.7,1186.7 3211.7,1183.3 3216.7,1178.3 3221.7,1175.0 3226.7,1174.0 3231.7,1169.3 3236.7,1167.3 3241.7,1163.3 3245.0,1158.3 3250.0,1156.0 3256.7,1154.0 3265.0,1153.3 3271.7,1151.7 3278.3,1154.0 3283.3,1158.3 3288.3,1163.3 3291.7,1170.0 3295.0,1176.7 3300.0,1179.3 3306.7,1180.0 3311.7,1181.7 3314.0,1228.3 3320.0,1230.0 3333.3,1229.3 3346.7,1229.3 3360.0,1230.7 3373.3,1229.3 3386.7,1229.3 3400.0,1230.0 3406.7,1228.3 3410.0,1223.3 3415.0,1220.0 3418.3,1200.0 3421.7,1176.7 3424.0,1158.3 3427.3,1155.0 3430.0,1136.7 3433.3,1133.3 3436.7,1115.0 3440.7,1106.7 3443.3,1093.3 3448.3,1090.0 3453.3,1080.0 3458.3,1073.3 3463.3,1070.0 3466.7,1066.7 3471.7,1060.7 3478.3,1060.0 3525.0,1060.0 3527.3,1073.3 3531.7,1075.0 3536.7,1086.7 3540.7,1091.7 3550.0,1091.7 3566.7,1091.7 3571.7,1091.7 3576.7,1103.3 3580.0,1108.3"/>
<polyline stroke="#9bbb59" points="184.5,1118.8 188.5,1086.6 192.4,1073.7 196.3,1064.0 200.3,1048.0 204.2,1041.5 208.1,1041.5 212.0,1051.2 216.0,1044.7 219.9,1038.3 223.8,1034.5 226.7,1038.3 231.7,1056.7 236.7,1070.0 241.7,1078.3 246.7,1083.3 251.7,1081.7 256.7,1091.7 261.7,1100.0 266.0,1101.7 270.0,1096.7 275.0,1093.3 280.0,1096.7 285.0,1100.0 290.0,1103.3 295.0,1098.3 298.3,1101.7 303.3,1093.3 310.0,1089.3 315.0,1100.0 320.0,1104.0 325.0,1094.0 330.0,1098.3 334.0,1096.7 338.3,1106.7 342.7,1111.7 346.7,1105.0 353.3,1093.3 358.3,1098.3 363.3,1096.7 368.3,1088.3 373.3,1066.7 378.3,1050.0 383.3,1026.7 388.3,1006.7 391.7,995.0 396.7,993.3 400.7,996.7 405.0,990.0 410.0,993.3 415.0,1006.7 420.0,1028.3 425.0,1031.7 430.0,1040.0 435.0,1050.0 440.0,1060.0 445.0,1066.7 449.3,1069.3 453.3,1065.0 458.3,1056.7 463.3,1046.7 467.3,1045.0 471.7,1056.7 476.7,1066.7 480.0,1075.0 483.3,1058.3 488.3,1066.7 493.3,1060.0 498.3,1055.0 505.0,1050.0 510.0,1035.0 515.0,1030.0 520.0,1018.3 525.0,1013.3 530.0,1008.3 535.0,1005.0 539.3,1002.7 543.3,1006.7 546.7,1005.0 550.0,1015.0 555.0,1016.7 560.0,1026.7 565.0,1036.7 570.0,1043.3 575.0,1053.3 580.0,1050.0 585.0,1051.7 591.7,1054.0 596.7,1048.3 601.7,1055.0 606.7,1048.3 610.0,1051.7 610.0,1050.0 615.0,1045.0 620.7,1040.0 626.7,1043.3 632.7,1039.3 638.3,1046.7 643.3,1050.0 648.3,1053.3 654.0,1046.7 659.3,1050.0 665.0,1051.7 670.0,1058.3 675.0,1061.7 681.7,1065.0 687.3,1074.0 693.3,1068.3 698.3,1066.7 703.3,1076.0 709.3,1070.0 715.0,1066.7 719.3,1078.3 725.0,1078.3 730.0,1083.3 735.0,1088.3 741.7,1095.0 748.3,1100.0 755.0,1105.0 761.7,1110.7 768.3,1110.0 773.3,1104.0 780.0,1108.3 786.7,1110.0 793.3,1113.3 798.3,1115.0 803.3,1108.3 808.3,1105.0 815.0,1110.0 820.0,1110.0 825.0,1105.0 830.0,1110.0 835.0,1110.7 840.7,1101.7 846.7,1106.0 851.7,1111.7 856.7,1113.3 861.7,1116.7 866.7,1119.3 871.7,1115.0 876.0,1112.7 880.0,1120.0 885.0,1122.7 893.3,1123.3 911.7,1123.3 918.3,1121.7 923.3,1116.7 928.3,1118.3 933.3,1112.7 938.3,1120.0 943.3,1116.7 948.3,1100.0 953.3,1086.7 958.3,1078.3 963.3,1073.3 970.0,1068.3 975.0,1063.3 980.0,1053.3 985.0,1040.0 989.3,1035.0 993.3,1040.0 998.3,1041.7 1003.3,1038.3 1008.3,1041.7 1015.0,1041.7 1021.7,1036.0 1026.7,1041.7 1026.7,1041.7 1030.0,1039.3 1035.0,1038.3 1040.0,1043.3 1046.7,1045.0 1053.3,1047.3 1060.0,1048.3 1066.7,1051.7 1073.3,1054.0 1078.3,1051.7 1083.3,1063.3 1088.3,1073.3 1095.0,1074.0 1100.0,1072.7 1106.7,1076.7 1113.3,1078.3 1120.0,1077.3 1124.0,1084.0 1130.0,1078.3 1135.0,1071.7 1139.3,1065.0 1143.3,1067.3 1150.0,1066.7 1155.0,1058.3 1160.0,1054.0 1165.0,1046.7 1170.0,1038.3 1174.0,1028.3 1177.3,1003.3 1180.7,976.7 1185.0,966.7 1190.0,956.7 1195.0,945.0 1199.0,941.0 1203.3,948.3 1208.3,956.7 1213.3,960.0 1219.0,960.0 1223.3,964.0 1228.3,968.3 1233.3,976.7 1240.0,983.3 1245.0,991.7 1250.0,982.7 1255.0,980.7 1260.0,985.0 1266.7,980.7 1271.7,980.0 1276.7,986.0 1281.7,986.7 1286.7,993.3 1291.7,1000.0 1296.7,1003.3 1301.7,1006.7 1306.7,1010.0 1311.7,1011.7 1316.7,1014.0 1321.7,1025.0 1328.3,1027.3 1335.0,1031.7 1341.7,1038.3 1348.3,1032.7 1353.3,1040.0 1358.3,1043.3 1366.7,1038.3 1373.3,1041.7 1380.0,1045.0 1386.7,1050.0 1391.7,1046.7 1398.3,1039.3 1403.3,1041.7 1408.3,1039.3 1413.3,1040.7 1418.3,1030.0 1425.0,1028.3 1430.0,1010.0 1433.3,991.7 1438.3,986.7 1442.7,980.7 1446.7,986.7 1450.0,988.3 1455.0,990.0 1460.0,998.3 1464.0,989.3 1470.0,993.3 1475.0,996.7 1480.0,989.3 1485.0,991.7 1490.0,998.3 1495.0,993.3 1500.0,980.0 1505.0,965.0 1510.0,956.7 1515.0,946.7 1520.0,938.3 1525.0,931.7 1530.0,923.3 1535.0,916.7 1540.0,913.3 1545.0,903.3 1550.0,890.0 1555.0,883.3 1558.3,891.7 1563.3,896.7 1568.3,900.0 1573.3,905.0 1578.3,908.3 1581.7,920.0 1586.7,928.3 1591.7,940.0 1596.7,950.0 1601.7,961.7 1606.7,971.7 1611.7,980.0 1616.7,981.7 1621.7,991.7 1626.0,998.3 1630.0,990.0 1635.0,991.7 1640.0,995.0 1646.7,996.7 1653.3,998.3 1660.0,1000.0 1666.7,998.3 1671.7,998.3 1676.7,991.7 1680.0,1000.0 1686.7,1003.3 1693.3,1006.7 1698.3,1010.0 1701.7,1015.0 1705.0,1000.0 1711.7,1002.7 1716.7,1001.7 1721.7,1000.0 1726.7,1010.0 1731.7,1008.3 1736.7,1006.7 1741.7,1013.3 1746.7,1018.3 1753.3,1020.0 1758.3,1025.0 1763.3,1028.3 1768.3,1031.7 1773.3,1035.0 1778.3,1040.0 1783.3,1038.3 1788.3,1043.3 1793.3,1046.7 1801.7,1046.7 1806.7,1056.7 1811.7,1051.7 1816.7,1055.0 1821.7,1051.7 1826.7,1056.7 1831.7,1058.3 1836.7,1060.0 1841.7,1056.7 1846.7,1065.0 1851.7,1070.0 1856.7,1063.3 1861.7,1061.7 1870.0,1065.0 1873.3,1060.0 1880.0,1057.3 1886.7,1056.0 1891.7,1060.0 1896.7,1062.7 1901.7,1056.7 1906.7,1060.0 1910.0,1063.3 1915.0,1050.0 1920.0,1041.7 1925.0,1033.3 1930.0,1028.3 1935.0,1020.0 1940.0,1015.0 1945.0,1011.7 1950.0,1008.3 1955.0,1009.3 1960.0,1010.0 1965.0,1007.3 1970.0,1004.0 1975.0,1000.0 1980.0,995.0 1985.0,993.3 1990.0,991.7 1995.0,990.0 2000.0,983.3 2004.0,980.0 2008.3,983.3 2013.3,986.7 2018.3,996.7 2023.3,991.7 2028.3,993.3 2033.3,1000.0 2038.3,1004.0 2043.3,1001.7 2048.3,1005.0 2053.3,1010.0 2058.3,1015.0 2063.3,1011.7 2068.3,1018.3 2073.3,1024.0 2078.3,1018.3 2083.3,1020.0 2088.3,1026.7 2093.3,1035.0 2098.3,1033.3 2103.3,1036.7 2108.3,1041.7 2113.3,1046.7 2118.3,1053.3 2123.3,1053.3 2128.3,1060.0 2133.3,1050.0 2137.3,1045.0 2141.7,1053.3 2146.7,1051.7 2151.7,1046.7 2156.7,1051.7 2161.7,1053.3 2166.7,1050.0 2171.7,1055.0 2176.7,1051.7 2181.7,1053.3 2186.7,1051.7 2191.7,1056.7 2196.7,1055.0 2200.0,1066.0 2205.0,1063.3 2210.0,1056.7 2215.0,1056.7 2220.0,1060.0 2225.0,1063.3 2230.0,1068.3 2235.0,1071.7 2240.0,1073.3 2245.0,1076.7 2250.0,1073.3 2255.0,1081.7 2260.0,1083.3 2265.0,1081.7 2270.0,1085.0 2273.3,1081.7 2276.7,1091.7 2281.7,1090.0 2286.7,1085.0 2290.0,1085.0 2295.0,1084.0 2300.0,1083.3 2305.0,1088.3 2310.0,1090.0 2315.0,1091.7 2320.0,1095.0 2325.0,1093.3 2330.0,1093.3 2335.0,1092.7 2340.0,1096.7 2346.7,1098.3 2353.3,1100.0 2360.0,1103.3 2365.0,1101.7 2370.0,1108.3 2374.0,1110.7 2378.3,1102.7 2383.3,1103.3 2388.3,1100.0 2393.3,1106.0 2398.3,1106.7 2403.3,1106.7 2408.3,1101.7 2413.3,1096.7 2418.3,1093.3 2423.3,1090.0 2428.3,1085.0 2433.3,1076.7 2438.3,1068.3 2443.3,1059.3 2448.3,1050.0 2453.3,1046.7 2460.0,1046.7 2465.0,1043.3 2470.0,1041.7 2476.7,1044.0 2483.3,1046.7 2488.3,1046.7 2493.3,1042.7 2498.3,1038.3 2503.3,1042.7 2508.3,1041.7 2513.3,1038.3 2518.3,1033.3 2522.7,1028.3 2526.7,1031.7 2531.7,1035.0 2536.7,1040.0 2541.7,1046.0 2546.7,1048.3 2551.7,1050.0 2556.7,1046.7 2561.7,1050.0 2566.7,1052.7 2571.7,1054.0 2576.7,1057.3 2581.7,1056.7 2586.7,1054.0 2593.3,1056.7 2600.0,1057.3 2605.0,1061.7 2610.0,1064.0 2615.0,1068.3 2620.0,1071.7 2625.0,1073.3 2630.0,1070.7 2635.0,1070.0 2640.0,1075.0 2645.0,1080.0 2650.0,1076.7 2655.0,1081.7 2660.0,1083.3 2665.0,1081.7 2670.0,1082.7 2675.0,1088.3 2680.0,1085.0 2685.0,1088.3 2691.7,1084.0 2696.7,1088.3 2701.7,1090.0 2706.7,1089.3 2710.0,1085.0 2715.0,1082.7 2720.0,1081.7 2725.0,1080.0 2730.0,1081.7 2733.3,1073.3 2738.3,1071.7 2743.3,1070.0 2748.3,1068.3 2753.3,1060.0 2758.3,1050.0 2763.3,1036.7 2768.3,1033.3 2773.3,1020.0 2778.3,1003.3 2783.3,983.3 2788.3,963.3 2793.3,946.7 2798.3,931.7 2803.3,926.7 2808.3,925.0 2813.3,920.7 2816.7,913.3 2820.7,909.3 2825.0,912.7 2830.0,913.3 2835.0,916.0 2840.0,913.3 2844.0,912.7 2848.3,921.7 2852.7,930.0 2856.7,927.3 2861.7,925.0 2866.7,926.7 2870.7,915.0 2874.0,925.0 2878.3,935.0 2883.3,941.7 2888.3,942.7 2893.3,940.0 2898.3,939.3 2903.3,941.7 2910.0,941.7 2915.0,948.3 2920.0,955.0 2925.0,961.7 2930.0,965.0 2935.0,966.7 2940.0,967.3 2948.3,966.7 2953.3,970.0 2958.3,978.3 2963.3,980.7 2968.3,976.7 2973.3,973.3 2978.3,985.0 2983.3,988.3 2988.3,986.7 2993.3,990.0 2998.3,996.7 3003.3,999.3 3010.0,1000.0 3015.0,1010.0 3020.0,1016.7 3025.0,1016.7 3030.0,1015.0 3033.3,1028.3 3038.3,1031.7 3043.3,1030.0 3048.3,1036.7 3053.3,1041.7 3058.3,1046.7 3063.3,1048.3 3068.3,1046.7 3073.3,1053.3 3078.3,1058.3 3083.3,1052.7 3088.3,1058.3 3093.3,1063.3 3098.3,1068.3 3103.3,1070.7 3108.3,1068.3 3115.0,1077.3 3120.0,1073.3 3125.0,1068.3 3130.0,1075.0 3135.0,1078.3 3140.0,1075.0 3146.7,1071.7 3151.7,1080.0 3156.7,1081.7 3161.7,1081.7 3166.7,1085.0 3171.7,1090.0 3176.7,1090.7 3181.7,1093.3 3186.7,1091.7 3190.0,1090.0 3195.0,1094.0 3200.0,1096.7 3205.0,1101.7 3210.0,1099.3 3215.0,1101.7 3220.0,1105.0 3225.0,1105.0 3230.0,1101.7 3234.0,1108.3 3240.0,1111.7 3245.0,1109.3 3250.0,1106.7 3255.0,1101.7 3260.0,1108.3 3265.0,1110.0 3270.0,1112.7 3275.0,1115.0 3280.0,1111.7 3285.0,1116.7 3288.3,1120.0 3293.3,1116.7 3300.0,1116.7 3305.0,1116.7 3307.3,1119.3 3307.5,1118.8 3311.5,1089.8 3315.4,754.5 3319.3,806.5 3323.3,877.3 3327.2,903.0 3331.1,961.0 3335.0,980.0 3339.0,1009.0 3342.9,1015.8 3348.3,1016.0 3351.7,1026.0 3356.7,1031.7 3361.7,1036.7 3366.7,1043.3 3371.7,1045.0 3375.0,1056.7 3380.0,1070.0 3385.0,1081.7 3390.0,1093.3 3393.3,1101.7 3398.3,1103.3 3403.3,1110.0 3408.3,1113.3 3413.3,1116.0 3418.3,1118.3 3423.3,1119.3 3428.3,1116.7 3433.3,1117.3 3438.3,1118.3 3443.3,1120.0 3448.3,1118.3 3453.3,1121.7 3458.3,1118.3 3463.3,1116.7 3468.3,1118.3 3473.3,1111.7 3478.3,1106.7 3483.3,1110.7 3488.3,1110.0 3493.3,1108.3 3498.3,1105.0 3503.3,1106.0 3508.3,1103.3 3513.3,1100.0 3518.3,1096.7 3523.3,1100.0 3528.3,1100.0 3533.3,1097.3 3538.3,1101.7 3543.3,1098.3 3548.3,1096.0 3553.3,1097.3 3558.3,1100.0 3563.3,1096.7 3568.3,1092.7 3573.3,1090.7 3576.7,1086.7 3580.0,1083.3"/>
</g>
<g stroke-width="9.8" stroke-linecap="round" fill="none">
<line x1="1004.3" y1="289.8" x2="1092.3" y2="289.8" stroke="#4f81bd"/>
<line x1="1480" y1="289.8" x2="1568.1" y2="289.8" stroke="#c0504d"/>
<line x1="2011.3" y1="289.8" x2="2099.1" y2="289.8" stroke="#9bbb59"/>
</g>
<text transform="translate(1091.21 158.0) scale(0.8986 1)" font-size="118.2" fill="#c0504d">U.S.</text>
<text transform="translate(1330.99 158.0) scale(0.9011 1)" font-size="118.2" fill="#c0504d">Economy</text>
<text transform="translate(1842.44 158.0) scale(0.9153 1)" font-size="118.2" fill="#c0504d">Settles</text>
<text transform="translate(2231.19 158.0) scale(0.9765 1)" font-size="118.2" fill="#c0504d">Down</text>
<text transform="translate(1101.88 314.2) scale(0.9849 1)" font-size="75.8" fill="#000">Inflation</text>
<text transform="translate(1577.34 314.2) scale(0.9112 1)" font-size="75.8" fill="#000">Fed</text>
<text transform="translate(1720.54 314.2) scale(0.8922 1)" font-size="75.8" fill="#000">Funds</text>
<text transform="translate(2108.61 314.2) scale(0.9777 1)" font-size="75.8" fill="#000">Unemployment</text>
<text transform="translate(30.74 451.2) scale(0.9861 1)" font-size="75.5" fill="#000">25</text>
<text transform="translate(30.90 612.2) scale(1.0000 1)" font-size="75.5" fill="#000">20</text>
<text transform="translate(30.72 773.2) scale(0.9766 1)" font-size="75.5" fill="#000">15</text>
<text transform="translate(30.58 934.2) scale(1.0039 1)" font-size="75.5" fill="#000">10</text>
<text transform="translate(72.85 1095.2) scale(0.9486 1)" font-size="75.5" fill="#000">5</text>
<text transform="translate(71.39 1256.2) scale(1.0361 1)" font-size="75.5" fill="#000">0</text>
<text transform="translate(46.77 1417.2) scale(0.9758 1)" font-size="75.5" fill="#000">-5</text>
<text transform="translate(128.27 1333.8) scale(1.0065 1)" font-size="57.7" fill="#000">1954</text>
<text transform="translate(363.79 1333.8) scale(1.0230 1)" font-size="57.7" fill="#000">1959</text>
<text transform="translate(599.43 1333.8) scale(1.0065 1)" font-size="57.7" fill="#000">1964</text>
<text transform="translate(834.95 1333.8) scale(1.0230 1)" font-size="57.7" fill="#000">1969</text>
<text transform="translate(1070.59 1333.8) scale(1.0065 1)" font-size="57.7" fill="#000">1974</text>
<text transform="translate(1306.11 1333.8) scale(1.0230 1)" font-size="57.7" fill="#000">1979</text>
<text transform="translate(1541.75 1333.8) scale(1.0065 1)" font-size="57.7" fill="#000">1984</text>
<text transform="translate(1777.27 1333.8) scale(1.0230 1)" font-size="57.7" fill="#000">1989</text>
<text transform="translate(2012.91 1333.8) scale(1.0065 1)" font-size="57.7" fill="#000">1994</text>
<text transform="translate(2248.43 1333.8) scale(1.0230 1)" font-size="57.7" fill="#000">1999</text>
<text transform="translate(2486.12 1333.8) scale(0.9905 1)" font-size="57.7" fill="#000">2004</text>
<text transform="translate(2721.67 1333.8) scale(1.0065 1)" font-size="57.7" fill="#000">2009</text>
<text transform="translate(2957.28 1333.8) scale(0.9905 1)" font-size="57.7" fill="#000">2014</text>
<text transform="translate(3192.83 1333.8) scale(1.0065 1)" font-size="57.7" fill="#000">2019</text>
<text transform="translate(3428.44 1333.8) scale(0.9905 1)" font-size="57.7" fill="#000">2024</text>
</svg>
</body></html>
